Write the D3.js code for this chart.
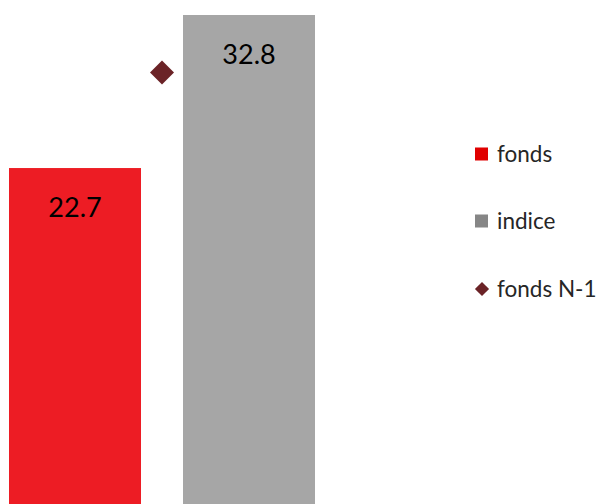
<!DOCTYPE html>
<html><head><meta charset="utf-8">
<script src="https://cdn.jsdelivr.net/npm/d3@7"></script>
<style>body{margin:0;background:#fff}svg{display:block}</style>
</head><body><svg id="c" width="601" height="504"></svg>
<script>
const categories = ["fonds", "indice"];
const values = [22.7, 32.8];
const previous = [29.0];
const legendLabels = ["fonds", "indice", "fonds N-1"];
const colors = ["#ed1c24", "#a6a6a6"];
const legendColors = ["#e00000", "#868686", "#6b2327"];

const svg = d3.select("#c");
const x = d3.scaleBand().domain(categories).range([9, 315]).paddingInner(42/174).paddingOuter(0);
const y = d3.scaleLinear().domain([0, 32.8]).range([512, 15]);

svg.selectAll("rect.bar").data(values).join("rect").attr("class","bar")
  .attr("x",(d,i)=>x(categories[i])).attr("width",x.bandwidth())
  .attr("y",d=>y(d)).attr("height",d=>y(0)-y(d)).attr("fill",(d,i)=>colors[i]);

svg.selectAll("text.lbl").data(values).join("text").attr("class","lbl")
  .attr("x",(d,i)=>x(categories[i])+x.bandwidth()/2).attr("y",d=>y(d)+49)
  .attr("text-anchor","middle").attr("font-family","Lato, 'Open Sans', sans-serif")
  .attr("font-size",27).attr("fill","#000").text(d=>d.toFixed(1));

const dx = x("fonds") + x.bandwidth() + (x.step()-x.bandwidth())/2;
svg.selectAll("path.n1").data(previous).join("path").attr("class","n1")
  .attr("d", d3.symbol().type(d3.symbolSquare).size(289)())
  .attr("transform",d=>`translate(${dx},${y(d)}) rotate(45)`).attr("fill","#6b2327");

const lg = svg.append("g").attr("font-family","Lato, 'Open Sans', sans-serif").attr("font-size",22.5).attr("fill","#262626");
const ly = [154, 221, 289];
legendLabels.forEach((t,i)=>{
  const g = lg.append("g").attr("transform",`translate(482,${ly[i]})`);
  if(i<2) g.append("rect").attr("x",-7).attr("y",-6.5).attr("width",13).attr("height",13).attr("fill",legendColors[i]);
  else g.append("path").attr("d",d3.symbol().type(d3.symbolSquare).size(100)()).attr("transform","rotate(45)").attr("fill",legendColors[i]);
  g.append("text").attr("x",15).attr("y",7.5).text(t);
});
</script></body></html>
